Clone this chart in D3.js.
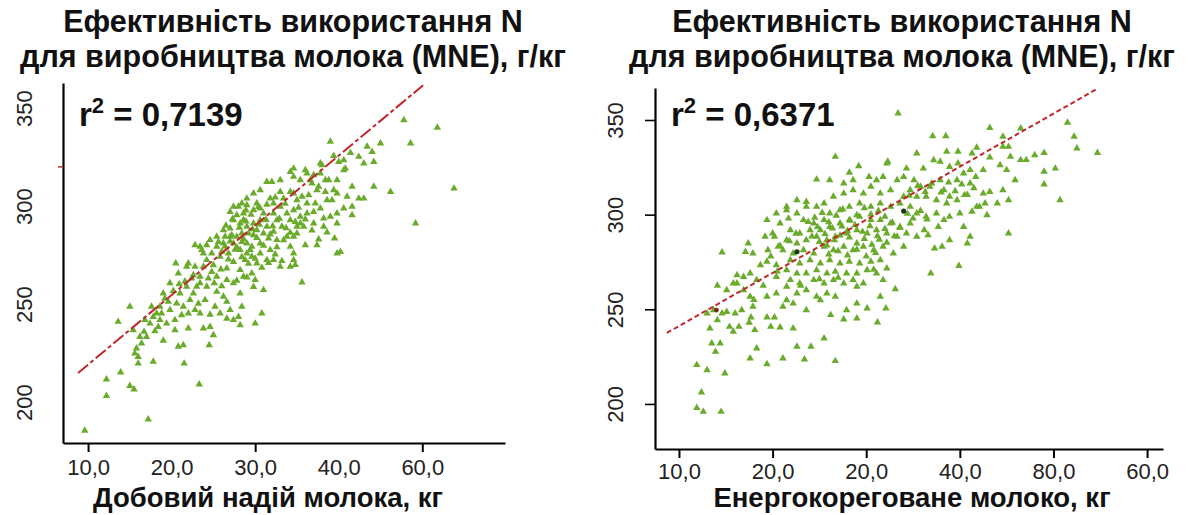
<!DOCTYPE html>
<html>
<head>
	<meta charset="utf-8">
	<title>MNE</title>
	<script src="https://d3js.org/d3.v7.min.js"></script>
	<style>
		body { margin: 0; background: #fff; }
		svg { font-family: "Liberation Sans", Arial, sans-serif; }
		.title { font-weight: bold; font-size: 30.5px; fill: #111; }
		.axis-title { font-weight: bold; font-size: 27.5px; fill: #111; }
		.rsq { font-weight: bold; font-size: 33px; fill: #111; }
		.tick text { font-size: 22px; fill: #222; }
	</style>
</head>
<body>
	<svg width="1189" height="515"></svg>
	<script>

		var titleLines = ["Ефективність використання N", "для виробництва молока (MNE), г/кг"];

		// left panel
		var leftXTicks = [10, 20, 30, 40, 50];
		var leftXLabels = ["10,0", "20,0", "30,0", "40,0", "60,0"];
		var leftXMajor = [10, 30, 50];
		var leftYTicks = [200, 250, 300, 350];
		var leftR2 = "0,7139";
		var leftFitCoef = [183.5, 3.556];   // intercept, slope
		var leftFitRange = [8.8, 50.1];
		var leftXTitle = "Добовий надій молока, кг";
		var leftPoints = [
			[9.6,185.4],[17.2,191.2],[12.2,203.2],[12.2,211.6],[13.9,215.2],[15.0,208.3],[15.5,206.5],[23.3,209.0],
			[16.0,219.7],[17.8,220.6],[21.5,219.7],[13.6,241.0],[15.0,248.7],[17.6,248.7],[20.5,270.8],[22.0,270.8],
			[15.6,224.8],[15.8,227.4],[16.4,230.0],[17.0,233.3],[16.7,235.9],[15.4,236.7],[17.4,240.1],[18.4,238.4],
			[18.8,245.3],[19.8,247.0],[20.6,250.4],[21.0,255.5],[20.9,260.2],[21.8,258.9],[22.6,255.5],[23.4,260.7],
			[24.2,258.9],[25.1,260.7],[25.4,264.0],[25.9,267.7],[26.6,268.2],[28.2,267.4],[29.0,263.6],[30.0,262.3],
			[31.0,257.2],[25.4,256.3],[26.2,253.8],[26.6,251.2],[28.2,255.5],[28.4,248.7],[27.0,247.0],[27.4,241.9],
			[28.0,243.5],[28.2,239.3],[30.0,240.1],[30.8,245.3],[25.0,234.2],[24.5,229.1],[23.8,237.6],[24.6,238.4],
			[22.8,247.0],[22.0,245.3],[21.4,229.1],[20.8,228.3],[20.4,236.7],[19.4,240.1],[18.2,245.3],[16.2,233.3],
			[16.0,223.1],[23.4,245.3],[23.0,258.9],[22.4,263.1],[20.8,265.7],[21.8,269.1],[22.8,269.1],[24.2,272.5],
			[23.8,275.9],[22.8,280.1],[23.4,279.3],[24.6,282.7],[25.4,284.4],[26.4,279.3],[26.2,287.8],[27.0,288.6],
			[27.4,292.9],[27.0,297.1],[28.0,299.7],[29.0,300.5],[30.2,301.4],[30.6,298.8],[31.8,303.9],[32.0,312.4],
			[33.0,307.3],[34.2,307.3],[34.2,317.5],[34.6,319.2],[36.0,318.4],[36.6,313.3],[36.8,311.6],[37.6,309.9],
			[38.4,313.3],[38.0,320.9],[39.0,332.9],[39.8,313.3],[39.8,306.5],[41.0,304.8],[40.6,323.5],[40.8,319.2],
			[42.4,325.2],[44.0,327.7],[44.2,322.6],[45.0,332.0],[44.2,309.9],[46.2,307.3],[43.0,303.9],[41.6,299.7],
			[41.6,295.4],[40.6,298.8],[39.8,296.3],[39.8,291.2],[39.0,294.6],[38.2,293.7],[37.8,298.8],[37.2,301.4],
			[36.2,296.3],[35.4,294.6],[35.0,289.5],[34.6,284.4],[36.0,280.1],[37.4,280.1],[39.5,283.5],[39.8,275.9],
			[40.2,276.7],[47.8,343.9],[51.8,340.1],[48.6,332.0],[53.8,309.0],[49.2,291.2],[34.6,272.5],[34.8,270.0],
			[35.6,261.1],[34.2,269.1],[32.2,272.5],[31.4,272.5],[33.0,269.1],[30.2,270.8],[29.6,274.2],[30.6,275.9],
			[31.8,277.6],[32.6,282.7],[33.8,284.4],[32.2,287.0],[31.0,286.1],[29.8,285.2],[29.0,281.0],[28.4,286.1],
			[28.2,291.2],[29.0,289.5],[29.8,291.2],[30.6,292.9],[31.0,296.3],[32.2,296.3],[33.0,299.7],[33.8,296.3],
			[34.6,298.0],[35.0,303.1],[35.6,304.8],[34.6,306.5],[33.4,303.9],[32.2,301.4],[29.8,298.0],[28.6,296.3],
			[27.8,295.4],[27.2,285.2],[26.2,281.0],[25.4,279.3],[24.8,275.9],[25.8,274.2],[26.8,275.9],[27.4,281.0],
			[28.2,277.6],[27.4,271.6],[28.8,272.5],[25.0,269.9],[23.8,269.1],[23.4,264.0],[24.4,263.1],[26.6,262.3],
			[27.4,260.7],[28.6,264.0],[29.6,265.7],[19.8,260.7],[19.0,255.5],[19.6,251.2],[18.6,248.7],[17.8,243.5],
			[16.8,241.9],[18.6,241.9],[20.4,241.9],[21.2,244.4],[22.2,252.1],[24.0,252.1],[25.2,248.7],[25.8,245.3],
			[21.4,248.7],[35.0,286.1],[34.8,292.0],[35.4,291.2],[35.8,289.5],[37.0,291.2],[38.2,289.5],[38.6,303.1],
			[39.4,308.2],[39.2,303.1],[38.4,307.3],[37.4,308.2],[36.4,305.6],[37.8,316.7],[38.8,313.3],[37.0,315.8],
			[35.4,313.3],[33.0,313.3],[31.4,312.4],[30.6,308.2],[29.8,306.5],[29.0,303.9],[40.0,322.6],[40.6,318.4],
			[42.4,303.9],[41.6,309.9],[43.0,321.8],[27.4,299.7],[28.4,301.4],[28.6,292.9],[29.2,286.1],[30.2,287.8],
			[31.4,289.5],[31.6,283.5],[30.6,281.0],[29.6,279.3],[28.4,281.8],[27.8,284.4],[27.0,284.4],[26.4,284.4],
			[25.6,281.8],[24.2,280.1],[23.6,277.6],[29.0,275.9],[34.2,279.3],[34.6,275.9],[34.2,292.9],[32.6,292.9],
			[33.2,289.5],[36.2,301.4],[37.0,297.1],[34.6,315.0],[36.2,316.7],
			[26.5,290.0],[27.3,293.5],[28.1,289.0],[28.9,292.2],[29.7,288.2],[30.5,290.6],[31.3,293.0],[32.1,289.8],
			[32.9,293.6],[33.7,288.8],[27.0,282.0],[27.8,279.0],[28.6,283.2],[29.4,277.6],[30.2,283.8],[31.0,279.8],
			[31.8,285.6],[32.6,279.0],[33.4,282.6],[34.2,286.4],[26.0,276.8],[26.8,272.8],[27.6,277.8],[28.4,274.0],
			[29.2,270.6],[30.0,273.2],[30.8,268.6],[31.6,271.0],[32.4,275.4],[33.2,272.0],[28.9,297.8],[29.5,295.6],
			[30.4,299.6],[31.4,300.8],[32.4,304.4],[33.6,301.2],[35.2,299.2],[36.0,293.2],[36.8,287.6],[37.6,283.0],
			[38.6,286.6],[22.6,264.8],[21.6,261.6],[20.2,256.8],[19.2,252.8],[18.0,236.2],[24.8,266.4],[26.0,259.2],
			[27.8,262.0],[29.8,258.8],[23.2,250.2],[24.6,244.6],[26.6,242.6],[22.0,237.6],[19.0,231.4],[37.8,321.8],
			[39.4,325.6],[41.4,327.2],[43.4,330.4]
		];
		var leftStrayMark = 320;

		// right panel
		var rightXTicks = [10, 20, 30, 40, 50, 60];
		var rightXLabels = ["10,0", "20,0", "20,0", "40,0", "80,0", "60,0"];
		var rightYTicks = [200, 250, 300, 350];
		var rightR2 = "0,6371";
		var rightFitCoef = [213.1, 2.805];
		var rightFitRange = [8.7, 54.7];
		var rightXTitle = "Енергокореговане молоко, кг";
		var rightPoints = [
			[11.9,198.0],[12.6,195.9],[14.5,195.9],[12.4,206.1],[11.9,220.6],[13.0,217.9],[14.9,216.2],[13.9,227.6],
			[13.5,232.0],[14.4,232.0],[13.3,239.9],[14.1,244.3],[13.0,247.9],[13.7,249.6],[14.6,247.9],[15.1,248.7],
			[15.4,240.8],[15.8,238.2],[16.4,240.8],[15.1,260.2],[14.1,262.5],[14.6,280.1],[16.2,263.7],[16.9,267.2],
			[17.6,269.0],[17.1,280.4],[17.9,279.6],[17.4,284.8],[19.2,288.4],[19.4,297.2],[20.2,288.4],[18.7,273.4],
			[19.4,275.2],[20.4,273.4],[18.3,265.5],[16.9,260.2],[17.6,256.7],[17.9,251.4],[19.4,256.7],[20.4,258.4],
			[21.5,254.9],[21.1,251.4],[22.2,253.1],[17.7,245.8],[19.4,245.8],[20.2,245.8],[19.8,240.8],[20.8,240.5],
			[22.2,239.9],[18.1,239.1],[18.3,229.4],[17.6,224.1],[19.4,221.1],[21.1,224.1],[22.6,230.3],[23.4,223.6],
			[24.1,230.3],[26.7,222.7],[25.5,234.7],[26.2,247.0],[27.6,244.7],[29.0,245.2],[31.2,243.1],[32.1,250.5],
			[33.1,260.7],[36.9,269.0],[39.9,273.0],[40.8,284.8],[38.9,286.6],[37.3,282.2],[38.1,283.1],[36.6,289.2],
			[37.7,293.6],[38.9,298.9],[40.0,300.7],[41.3,301.6],[41.8,304.2],[42.7,306.0],[42.9,299.8],[44.0,306.0],
			[45.2,307.7],[45.2,290.1],[43.2,312.1],[44.6,313.0],[45.9,318.3],[45.0,323.6],[44.3,326.2],[45.4,330.6],
			[44.6,335.9],[45.2,335.9],[46.5,345.6],[43.2,345.9],[44.6,341.2],[47.1,328.9],[48.0,331.5],[49.0,332.7],
			[49.0,322.7],[49.0,316.0],[50.2,324.4],[50.7,307.7],[51.5,348.6],[52.2,341.2],[52.5,335.0],[54.7,332.7],
			[33.4,353.5],[37.1,341.5],[38.5,341.5],[35.4,332.4],[38.6,333.3],[39.8,333.3],[41.8,335.4],[43.2,330.3],
			[41.3,332.4],[41.1,323.6],[40.4,321.8],[41.7,320.0],[41.1,316.5],[39.7,318.3],[38.9,325.3],[37.9,328.0],
			[37.2,328.8],[36.1,324.4],[34.3,324.4],[32.2,327.1],[32.3,328.0],[26.7,330.6],[29.2,325.7],[28.2,322.2],
			[24.7,318.6],[26.1,318.3],[27.6,316.5],[28.6,318.3],[30.3,320.0],[31.1,318.3],[31.8,320.0],[33.3,318.3],
			[34.0,320.0],[35.1,318.3],[35.8,314.8],[36.8,314.8],[37.9,318.3],[38.3,313.0],[38.9,309.5],[38.6,306.0],
			[37.5,307.7],[36.4,309.5],[35.4,309.5],[34.7,313.0],[34.0,309.5],[32.6,313.0],[31.5,311.2],[30.5,314.8],
			[29.7,311.2],[28.6,313.0],[27.6,311.2],[26.5,309.5],[25.5,306.0],[24.7,304.2],[23.6,304.2],[22.6,300.7],
			[21.5,302.4],[21.7,298.0],[23.3,297.2],[24.4,295.4],[25.5,297.2],[26.1,300.7],[27.2,302.4],[28.2,304.2],
			[29.3,306.0],[30.5,304.2],[31.5,306.0],[32.6,304.2],[33.6,306.0],[34.7,304.2],[35.4,300.7],[36.4,298.9],
			[37.5,300.7],[38.3,297.2],[34.7,295.4],[33.6,293.6],[32.6,295.4],[31.5,297.2],[30.5,297.2],[29.3,298.9],
			[28.2,297.2],[27.2,295.4],[26.1,293.6],[25.1,291.9],[24.0,291.9],[22.9,290.1],[21.9,291.9],[21.5,286.6],
			[22.6,284.8],[23.6,286.6],[24.7,288.4],[25.8,286.6],[26.7,288.4],[27.9,290.1],[29.0,291.9],[30.1,290.1],
			[31.1,291.9],[32.2,290.1],[33.3,288.4],[34.3,290.1],[35.4,288.4],[36.2,291.9],[34.0,283.1],[32.9,279.6],
			[31.8,283.1],[30.8,281.3],[29.7,283.1],[28.6,281.3],[27.6,283.1],[26.5,281.3],[25.5,283.1],[24.4,279.6],
			[23.3,281.3],[22.2,279.6],[21.1,281.3],[21.9,276.0],[22.9,274.3],[24.0,276.0],[25.1,274.3],[26.1,276.0],
			[27.2,274.3],[28.2,275.2],[29.3,274.3],[30.5,275.2],[31.5,276.0],[32.2,271.6],[31.1,269.0],[30.1,270.7],
			[29.0,269.0],[27.9,269.0],[26.7,269.9],[25.8,269.0],[24.7,270.7],[23.6,269.0],[22.6,269.0],[21.5,270.7],
			[20.4,267.2],[21.9,265.5],[22.9,263.7],[24.4,265.5],[25.5,263.7],[26.5,265.5],[27.6,263.7],[28.6,265.5],
			[29.7,263.7],[31.8,265.5],[25.8,258.4],[26.7,256.7],[24.7,256.7],[23.6,260.2],[22.6,258.4],[29.0,253.1],
			[30.1,250.5],[27.9,249.6],[31.5,256.7],[23.6,249.6],[25.1,254.9],[40.4,293.6],[41.1,288.4],[42.1,304.2],
			[42.5,311.2],[40.5,310.4],[39.7,307.7],[39.8,327.1],[42.5,323.6],[46.5,328.9],[21.5,304.2],[22.6,307.7],
			[23.6,306.8],[20.4,300.7],[20.8,295.4],[20.0,290.1],[20.6,283.1],[19.5,281.3],[16.2,268.1],[15.8,263.7],
			[16.7,249.6],[16.0,247.9],
			[24.5,298.5],[25.3,301.0],[26.0,296.0],[26.8,299.5],[27.5,302.8],[28.3,296.8],[29.0,299.8],[29.8,303.5],
			[30.5,300.2],[31.3,302.0],[32.0,299.0],[24.8,293.5],[25.6,289.8],[26.4,292.8],[27.2,289.0],[28.0,291.5],
			[28.8,294.5],[29.6,291.0],[30.4,294.0],[31.2,288.7],[32.0,292.5],[32.8,295.8],[23.8,296.2],[24.2,288.5],
			[25.0,285.6],[25.8,283.8],[26.6,286.5],[27.4,293.8],[28.2,288.0],[29.0,284.8],[29.8,287.2],[30.6,284.2],
			[31.4,286.8],[32.2,285.2],[33.0,288.6],[33.6,293.0],[34.4,300.5],[35.0,298.0],[35.8,302.0],[36.5,297.5],
			[34.6,310.0],[35.5,315.2],[36.3,312.0],[37.0,316.5],[38.0,311.8],[38.8,317.0],[39.5,312.5],[40.2,316.0],
			[40.8,310.5],[41.5,314.0],[26.0,279.0],[27.0,280.8],[28.0,278.5],[29.0,281.5],[30.0,278.0],[31.0,279.8],
			[22.5,290.0],[21.8,286.0],[20.8,283.5],[19.8,278.0],[20.5,270.0],[21.5,262.0],[19.0,262.5],[18.0,255.0],
			[17.5,243.0],[23.0,262.5],[25.0,266.0],[27.0,266.8],[29.0,262.0],[30.8,271.0]
		];
		var rightDarkPoints = [[22.6,280.4],[34.0,301.9]];
		var rightRedDot = [14.0,249.6];

		var svg = d3.select("svg");
		var green = "#6aab2c", red = "#c0262c";
		var tri = d3.symbol().type(d3.symbolTriangle).size(24);

		function drawPanel(p) {
			var x = d3.scaleLinear().domain(p.xDomain).range(p.xRange),
			y = d3.scaleLinear().domain(p.yDomain).range(p.yRange);

			var g = svg.append("g");

			// title
			g.append("text")
			.attr("class", "title")
			.attr("x", p.titleX)
			.attr("y", 32)
			.attr("text-anchor", "middle")
			.text(titleLines[0]);
			g.append("text")
			.attr("class", "title")
			.attr("x", p.titleX)
			.attr("y", 66.5)
			.attr("text-anchor", "middle")
			.text(titleLines[1]);

			// x axis
			var xAxis = g.append("g")
			.attr("transform", "translate(0," + p.yRange[0] + ")")
			.call(d3.axisBottom(x).tickValues(p.xTicks).tickSize(9).tickSizeOuter(0).tickPadding(p.xPad)
				.tickFormat(function(d, i) { return p.xLabels[i]; }));
			xAxis.select(".domain").attr("stroke-width", 2.2);
			xAxis.selectAll(".tick line")
			.attr("stroke-width", 2)
			.attr("opacity", function(d) { return p.xMajor.indexOf(d) >= 0 ? 1 : 0; });

			// y axis
			var yAxis = g.append("g")
			.attr("transform", "translate(" + p.xRange[0] + ",0)")
			.call(d3.axisLeft(y).tickValues(p.yTicks).tickSize(p.yTickSize).tickSizeOuter(0));
			yAxis.select(".domain").attr("stroke-width", 2.2);
			yAxis.selectAll(".tick line").attr("stroke-width", 1.6);
			yAxis.selectAll(".tick text")
			.attr("transform", "rotate(-90)")
			.attr("x", 0)
			.attr("y", -p.yLabelOff)
			.attr("dy", "0.36em")
			.attr("text-anchor", "middle");

			// points
			g.selectAll(".pt")
			.data(p.points)
			.enter().append("path")
			.attr("class", "pt")
			.attr("d", tri)
			.attr("fill", green)
			.attr("transform", function(d) { return "translate(" + x(d[0]) + "," + y(d[1]) + ")"; });

			// regression line
			g.append("line")
			.attr("x1", x(p.fitRange[0]))
			.attr("y1", y(p.fitCoef[0] + p.fitCoef[1] * p.fitRange[0]))
			.attr("x2", x(p.fitRange[1]))
			.attr("y2", y(p.fitCoef[0] + p.fitCoef[1] * p.fitRange[1]))
			.attr("stroke", red)
			.attr("stroke-width", 2)
			.attr("stroke-dasharray", p.dash);

			// r2 label
			var t = g.append("text")
			.attr("class", "rsq")
			.attr("x", p.xRange[0] + 16)
			.attr("y", 126);
			t.append("tspan").text("r");
			t.append("tspan").attr("dy", -13).attr("font-size", 22).text("2");
			t.append("tspan").attr("dy", 13).text(" = " + p.r2);

			// x title
			g.append("text")
			.attr("class", "axis-title")
			.attr("x", p.xTitleX)
			.attr("y", 507)
			.attr("text-anchor", "middle")
			.text(p.xTitle);

			return {x: x, y: y, g: g};
		}

		var L = drawPanel({
			xDomain: [7.0, 59.9], xRange: [63, 505],
			yDomain: [179.1, 362.8], yRange: [443, 83],
			xTicks: leftXTicks, xLabels: leftXLabels, xMajor: leftXMajor, xPad: 7,
			yTicks: leftYTicks, yTickSize: 0, yLabelOff: 39,
			points: leftPoints, fitCoef: leftFitCoef, fitRange: leftFitRange, dash: "13,3,4,3",
			r2: leftR2, titleX: 293, xTitle: leftXTitle, xTitleX: 268
		});

		L.g.append("line")
		.attr("x1", 58).attr("x2", 63)
		.attr("y1", L.y(leftStrayMark)).attr("y2", L.y(leftStrayMark))
		.attr("stroke", red).attr("stroke-width", 1.5);

		var R = drawPanel({
			xDomain: [7.44, 61.7], xRange: [655, 1163],
			yDomain: [176.2, 366.9], yRange: [449, 88],
			xTicks: rightXTicks, xLabels: rightXLabels, xMajor: rightXTicks, xPad: 5,
			yTicks: rightYTicks, yTickSize: 10, yLabelOff: 40,
			points: rightPoints, fitCoef: rightFitCoef, fitRange: rightFitRange, dash: "5,3",
			r2: rightR2, titleX: 902, xTitle: rightXTitle, xTitleX: 912
		});

		R.g.selectAll(".dk")
		.data(rightDarkPoints)
		.enter().append("circle")
		.attr("cx", function(d) { return R.x(d[0]); })
		.attr("cy", function(d) { return R.y(d[1]); })
		.attr("r", 2.6)
		.attr("fill", "#1d3a12");

		R.g.append("circle")
		.attr("cx", R.x(rightRedDot[0]))
		.attr("cy", R.y(rightRedDot[1]))
		.attr("r", 2.4)
		.attr("fill", "#7a2a1a");
	</script>
</body>
</html>
